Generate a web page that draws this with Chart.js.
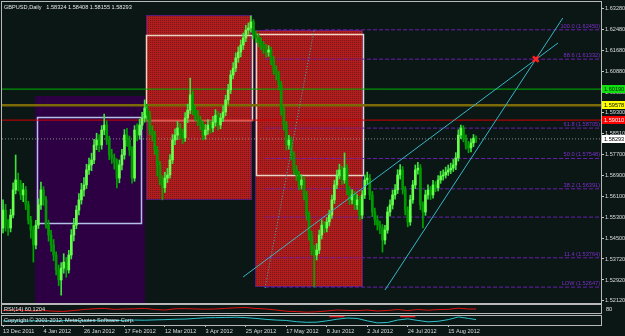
<!DOCTYPE html>
<html>
<head>
<meta charset="utf-8">
<script src="https://cdn.jsdelivr.net/npm/chart.js@4.4.0/dist/chart.umd.min.js"></script>
<style>
html, body { margin: 0; padding: 0; background: #0a1715; }
#wrap { position: relative; width: 625px; height: 336px; overflow: hidden; background: #0a1715; }
#wrap canvas { position: absolute; left: 0; }
</style>
</head>
<body>
<div id="wrap">
  <canvas id="main" width="625" height="304" style="top:0"></canvas>
  <canvas id="rsi" width="625" height="11" style="top:304px"></canvas>
  <canvas id="osc" width="625" height="21" style="top:315px"></canvas>
</div>
<script>
// GBPUSD daily bars, 13 Dec 2011 .. end of Aug 2012
const opens = [
  1.5490,1.5558,1.5501,1.5490,1.5539,1.5635,1.5673,1.5654,1.5616,1.5635,
  1.5578,1.5520,1.5482,1.5425,1.5501,1.5578,1.5635,1.5597,1.5501,1.5463,
  1.5425,1.5387,1.5330,1.5292,1.5337,1.5360,1.5330,1.5387,1.5463,1.5501,
  1.5558,1.5597,1.5635,1.5654,1.5711,1.5730,1.5749,1.5806,1.5825,1.5806,
  1.5863,1.5882,1.5825,1.5768,1.5757,1.5741,1.5680,1.5730,1.5768,1.5844,
  1.5825,1.5787,1.5680,1.5863,1.5844,1.5882,1.5909,1.5947,1.5920,1.5863,
  1.5844,1.5787,1.5730,1.5673,1.5643,1.5680,1.5692,1.5749,1.5825,1.5844,
  1.5871,1.5852,1.5833,1.5909,1.5939,1.5997,1.5939,1.5920,1.5901,1.5882,
  1.5844,1.5863,1.5882,1.5871,1.5893,1.5920,1.5882,1.5909,1.5932,1.5978,
  1.6016,1.6073,1.6099,1.6138,1.6160,1.6187,1.6214,1.6244,1.6252,1.6275,
  1.6225,1.6214,1.6198,1.6187,1.6175,1.6160,1.6168,1.6130,1.6092,1.6073,
  1.6035,1.5939,1.5882,1.5806,1.5825,1.5768,1.5711,1.5692,1.5654,1.5673,
  1.5616,1.5539,1.5463,1.5406,1.5387,1.5406,1.5463,1.5501,1.5490,1.5513,
  1.5539,1.5597,1.5654,1.5692,1.5711,1.5673,1.5718,1.5635,1.5597,1.5616,
  1.5578,1.5597,1.5539,1.5616,1.5673,1.5680,1.5616,1.5551,1.5520,1.5501,
  1.5490,1.5444,1.5482,1.5551,1.5578,1.5616,1.5635,1.5692,1.5711,1.5635,
  1.5558,1.5513,1.5597,1.5654,1.5711,1.5718,1.5578,1.5551,1.5616,1.5635,
  1.5616,1.5654,1.5643,1.5673,1.5688,1.5692,1.5703,1.5711,1.5718,1.5730,
  1.5757,1.5844,1.5871,1.5833,1.5806,1.5795,1.5814,1.58324
];
const highs = [
  1.5597,1.5580,1.5522,1.5561,1.5662,1.5768,1.5699,1.5671,1.5660,1.5648,
  1.5592,1.5534,1.5497,1.5519,1.5601,1.5665,1.5648,1.5610,1.5520,1.5481,
  1.5446,1.5399,1.5349,1.5358,1.5392,1.5378,1.5405,1.5484,1.5527,1.5575,
  1.5621,1.5660,1.5682,1.5733,1.5756,1.5775,1.5828,1.5851,1.5846,1.5880,
  1.5924,1.5898,1.5840,1.5790,1.5772,1.5753,1.5749,1.5790,1.5865,1.5870,
  1.5840,1.5800,1.5880,1.5887,1.5905,1.5931,1.5978,1.5962,1.5935,1.5879,
  1.5858,1.5801,1.5744,1.5690,1.5702,1.5717,1.5770,1.5846,1.5868,1.5896,
  1.5889,1.5867,1.5930,1.5962,1.6061,1.6012,1.5955,1.5938,1.5915,1.5897,
  1.5884,1.5903,1.5898,1.5915,1.5941,1.5934,1.5926,1.5955,1.5996,1.6037,
  1.6090,1.6120,1.6157,1.6180,1.6206,1.6233,1.6262,1.6271,1.6298,1.6284,
  1.6240,1.6229,1.6215,1.6201,1.6190,1.6185,1.6179,1.6144,1.6108,1.6087,
  1.6049,1.5952,1.5896,1.5843,1.5837,1.5780,1.5727,1.5706,1.5693,1.5687,
  1.5630,1.5552,1.5478,1.5425,1.5430,1.5482,1.5520,1.5514,1.5530,1.5558,
  1.5615,1.5672,1.5711,1.5733,1.5725,1.5776,1.5731,1.5648,1.5636,1.5630,
  1.5617,1.5610,1.5633,1.5692,1.5703,1.5694,1.5629,1.5566,1.5537,1.5516,
  1.5503,1.5500,1.5570,1.5597,1.5634,1.5655,1.5712,1.5732,1.5724,1.5648,
  1.5571,1.5615,1.5671,1.5730,1.5740,1.5731,1.5590,1.5634,1.5654,1.5648,
  1.5672,1.5667,1.5690,1.5706,1.5712,1.5722,1.5730,1.5737,1.5751,1.5777,
  1.5864,1.5882,1.5880,1.5845,1.5820,1.5830,1.5846,1.58408
];
const lows = [
  1.5471,1.5478,1.5462,1.5475,1.5528,1.5620,1.5631,1.5598,1.5590,1.5560,
  1.5505,1.5451,1.5360,1.5410,1.5488,1.5561,1.5576,1.5489,1.5440,1.5401,
  1.5365,1.5311,1.5270,1.5234,1.5318,1.5302,1.5318,1.5372,1.5441,1.5487,
  1.5540,1.5581,1.5611,1.5640,1.5694,1.5708,1.5735,1.5788,1.5781,1.5790,
  1.5845,1.5808,1.5750,1.5736,1.5714,1.5643,1.5662,1.5711,1.5752,1.5801,
  1.5766,1.5661,1.5668,1.5822,1.5828,1.5866,1.5893,1.5900,1.5845,1.5822,
  1.5770,1.5688,1.5655,1.5597,1.5625,1.5663,1.5680,1.5735,1.5807,1.5826,
  1.5830,1.5811,1.5820,1.5891,1.5925,1.5921,1.5899,1.5880,1.5863,1.5825,
  1.5828,1.5846,1.5852,1.5856,1.5878,1.5864,1.5868,1.5895,1.5918,1.5962,
  1.6002,1.6058,1.6085,1.6121,1.6142,1.6170,1.6200,1.6228,1.6236,1.6210,
  1.6196,1.6180,1.6168,1.6155,1.6141,1.6144,1.6112,1.6075,1.6054,1.6016,
  1.5920,1.5863,1.5787,1.5790,1.5749,1.5694,1.5671,1.5635,1.5638,1.5597,
  1.5520,1.5444,1.5387,1.5265,1.5368,1.5392,1.5448,1.5472,1.5475,1.5498,
  1.5526,1.5583,1.5640,1.5677,1.5656,1.5660,1.5617,1.5579,1.5582,1.5560,
  1.5561,1.5520,1.5526,1.5602,1.5657,1.5598,1.5533,1.5502,1.5482,1.5468,
  1.5398,1.5428,1.5470,1.5535,1.5562,1.5600,1.5621,1.5676,1.5619,1.5540,
  1.5494,1.5500,1.5584,1.5640,1.5695,1.5560,1.5490,1.5538,1.5600,1.5598,
  1.5604,1.5628,1.5631,1.5660,1.5672,1.5680,1.5690,1.5697,1.5705,1.5712,
  1.5745,1.5830,1.5818,1.5790,1.5777,1.5780,1.5800,1.58155
];
const closes = [
  1.5558,1.5501,1.5490,1.5539,1.5635,1.5673,1.5654,1.5616,1.5635,1.5578,
  1.5520,1.5482,1.5425,1.5501,1.5578,1.5635,1.5597,1.5501,1.5463,1.5425,
  1.5387,1.5330,1.5292,1.5337,1.5360,1.5330,1.5387,1.5463,1.5501,1.5558,
  1.5597,1.5635,1.5654,1.5711,1.5730,1.5749,1.5806,1.5825,1.5806,1.5863,
  1.5882,1.5825,1.5768,1.5757,1.5741,1.5680,1.5730,1.5768,1.5844,1.5825,
  1.5787,1.5680,1.5863,1.5844,1.5882,1.5909,1.5947,1.5920,1.5863,1.5844,
  1.5787,1.5730,1.5673,1.5643,1.5680,1.5692,1.5749,1.5825,1.5844,1.5871,
  1.5852,1.5833,1.5909,1.5939,1.5997,1.5939,1.5920,1.5901,1.5882,1.5844,
  1.5863,1.5882,1.5871,1.5893,1.5920,1.5882,1.5909,1.5932,1.5978,1.6016,
  1.6073,1.6099,1.6138,1.6160,1.6187,1.6214,1.6244,1.6252,1.6275,1.6225,
  1.6214,1.6198,1.6187,1.6175,1.6160,1.6168,1.6130,1.6092,1.6073,1.6035,
  1.5939,1.5882,1.5806,1.5825,1.5768,1.5711,1.5692,1.5654,1.5673,1.5616,
  1.5539,1.5463,1.5406,1.5387,1.5406,1.5463,1.5501,1.5490,1.5513,1.5539,
  1.5597,1.5654,1.5692,1.5711,1.5673,1.5718,1.5635,1.5597,1.5616,1.5578,
  1.5597,1.5539,1.5616,1.5673,1.5680,1.5616,1.5551,1.5520,1.5501,1.5490,
  1.5444,1.5482,1.5551,1.5578,1.5616,1.5635,1.5692,1.5711,1.5635,1.5558,
  1.5513,1.5597,1.5654,1.5711,1.5718,1.5578,1.5551,1.5616,1.5635,1.5616,
  1.5654,1.5643,1.5673,1.5688,1.5692,1.5703,1.5711,1.5718,1.5730,1.5757,
  1.5844,1.5871,1.5833,1.5806,1.5795,1.5814,1.58324,1.58293
];

// time axis labels (one every 16 bars)
const dateIdx = [0, 16, 32, 48, 64, 80, 96, 112, 128, 144, 160, 176];
const dateLabels = ['13 Dec 2011', '4 Jan 2012', '26 Jan 2012', '17 Feb 2012', '12 Mar 2012', '3 Apr 2012',
                    '25 Apr 2012', '17 May 2012', '8 Jun 2012', '2 Jul 2012', '24 Jul 2012', '15 Aug 2012'];

// price scale labels
const priceTicks = [1.63280, 1.62480, 1.61680, 1.60880, 1.60080, 1.59300, 1.58510, 1.57700,
                    1.56900, 1.56100, 1.55300, 1.54500, 1.53720, 1.52920, 1.52120];

// horizontal level lines
const levelPrices = [1.60190, 1.59578, 1.59010, 1.58293];
const levelLabels = ['1.60190', '1.59578', '1.59010', '1.58293'];

// fibonacci levels
const fibPrices = [1.62450, 1.61332, 1.58705, 1.57548, 1.56391, 1.55314, 1.53764, 1.52647];
const fibLabels = ['100.0 (1.62450)', '88.6 (1.61332)', '61.8 (1.58705)', '50.0 (1.57548)',
                   '38.2 (1.56391)', '', '11.4 (1.53764)', 'LOW (1.52647)'];

// indicator panels (sampled every 4 bars)
const indIdx = [0,4,8,12,16,20,24,28,32,36,40,44,48,52,56,60,64,68,72,76,80,84,88,92,
                96,100,104,108,112,116,120,124,128,132,136,140,144,148,152,156,160,164,168,172,176,180,184,187];
const rsiVals = [45,48,46,40,44,38,36,45,55,62,66,56,60,62,66,55,50,62,64,60,58,60,66,72,
                 75,65,60,50,38,34,28,32,40,50,46,44,50,40,45,55,44,55,48,54,56,68,60,60];
const oscVals = [38,40,36,40,42,38,44,46,42,45,48,44,46,50,48,52,55,60,62,70,78,80,82,85,
                 80,70,58,50,45,30,22,24,40,60,75,70,40,15,20,50,65,45,28,35,55,88,70,56];

const X_MIN = -0.4, X_MAX = 236.4;
const FONT = 'Liberation Sans';
Chart.defaults.font.family = FONT;

// rectangles drawn on the chart (bar index / price)
const zones = [
  { kind: 'purple', from: 12.65, to: 56.1, top: 1.59928, bottom: 1.50 },
  { kind: 'red', from: 56.5, to: 98.4, top: 1.63013, bottom: 1.55966 },
  { kind: 'red', from: 99.6, to: 142.3, top: 1.62450, bottom: 1.52647 },
  { kind: 'blueBox', from: 13.4, to: 54.5, top: 1.59128, bottom: 1.55090 },
  { kind: 'box', from: 56.5, to: 98.4, top: 1.62251, bottom: 1.59013 },
  { kind: 'box', from: 100, to: 142.3, top: 1.62290, bottom: 1.56918 }
];

// trend lines (bar index / price)
const trendA = [{ x: 94.9, y: 1.53032 }, { x: 219.4, y: 1.61947 }];
const trendB = [{ x: 151.0, y: 1.52537 }, { x: 221.3, y: 1.62899 }];
const fibDiag = [{ x: 103.6, y: 1.52613 }, { x: 123.0, y: 1.62450 }];
const crossMark = [{ x: 210.6, y: 1.61332 }];

function makeRedPattern(ctx) {
  const c = document.createElement('canvas');
  c.width = 2; c.height = 2;
  const g = c.getContext('2d');
  g.fillStyle = '#b21e1e';
  g.fillRect(0, 0, 2, 2);
  g.fillStyle = '#761616';
  g.fillRect(0, 0, 1, 1);
  return ctx.createPattern(c, 'repeat');
}

const framePlugin = {
  id: 'frame',
  afterDraw(chart) {
    const { ctx, chartArea: a } = chart;
    ctx.save();
    ctx.strokeStyle = '#b8b8b8';
    ctx.lineWidth = 1;
    ctx.strokeRect(a.left - 0.5, a.top - 0.5, a.right - a.left + 1, a.bottom - a.top + 1);
    ctx.restore();
  }
};

const zonesPlugin = {
  id: 'zones',
  beforeDatasetsDraw(chart) {
    const { ctx, chartArea: a, scales: { x, y } } = chart;
    const red = makeRedPattern(ctx);
    ctx.save();
    ctx.beginPath();
    ctx.rect(a.left, a.top, a.right - a.left, a.bottom - a.top);
    ctx.clip();
    zones.forEach(z => {
      const x0 = Math.round(x.getPixelForValue(z.from));
      const x1 = Math.round(x.getPixelForValue(z.to));
      const y0 = Math.round(y.getPixelForValue(z.top));
      const y1 = Math.round(y.getPixelForValue(z.bottom));
      if (z.kind === 'purple') {
        ctx.fillStyle = '#2c0042';
        ctx.fillRect(x0, y0, x1 - x0, y1 - y0);
      } else if (z.kind === 'red') {
        ctx.fillStyle = red;
        ctx.fillRect(x0, y0, x1 - x0, y1 - y0);
        ctx.strokeStyle = '#5a1a78';
        ctx.lineWidth = 1;
        ctx.strokeRect(x0 + 0.5, y0 + 0.5, x1 - x0 - 1, y1 - y0 - 1);
      } else {
        ctx.strokeStyle = z.kind === 'blueBox' ? '#b4c2ea' : '#efd2c2';
        ctx.lineWidth = 1.5;
        ctx.strokeRect(x0 + 0.5, y0 + 0.5, x1 - x0, y1 - y0);
      }
    });
    ctx.restore();
  }
};

const textPlugin = {
  id: 'texts',
  afterDraw(chart) {
    const { ctx, scales: { y } } = chart;
    ctx.save();
    ctx.font = '5.6px ' + FONT;
    ctx.textBaseline = 'middle';
    // header
    ctx.fillStyle = '#e6e6e6';
    ctx.textAlign = 'left';
    ctx.fillText('GBPUSD,Daily   1.58324 1.58408 1.58155 1.58293', 4, 7);
    // fibonacci labels
    ctx.fillStyle = '#7c2ec8';
    ctx.textAlign = 'right';
    ctx.textBaseline = 'bottom';
    fibPrices.forEach((p, k) => {
      if (fibLabels[k]) ctx.fillText(fibLabels[k], 600, Math.round(y.getPixelForValue(p)) - 0.5);
    });
    // price boxes on the right scale
    const boxBg = ['#10e010', '#ffff00', '#ff0000', '#ffffff'];
    const boxFg = ['#002000', '#000000', '#ffffff', '#000000'];
    ctx.textAlign = 'left';
    ctx.textBaseline = 'middle';
    levelPrices.forEach((p, k) => {
      const py = Math.round(y.getPixelForValue(p));
      ctx.fillStyle = boxBg[k];
      ctx.fillRect(602, py - 4, 23, 8);
      ctx.fillStyle = boxFg[k];
      ctx.fillText(levelLabels[k], 604, py + 0.5);
    });
    ctx.restore();
  }
};

function hLine(price, from, color, width, dash, order) {
  return {
    type: 'line',
    data: [{ x: from, y: price }, { x: X_MAX, y: price }],
    borderColor: color, borderWidth: width, borderDash: dash,
    pointRadius: 0, order: order
  };
}

const lineColors = ['#00b400', '#7c6a06', '#d40000', '#8c8c8c'];
const lineWidths = [1, 2.5, 1, 1];
const lineDash = [[], [], [], [1, 2]];

const datasets = [];
levelPrices.forEach((p, k) => datasets.push(hLine(p, X_MIN, lineColors[k], lineWidths[k], lineDash[k], 5)));
fibPrices.forEach(p => datasets.push(hLine(p, 103.6, '#6a1fae', 1, [4, 2], 4)));

datasets.push({
  type: 'bar',
  data: lows.map((l, i) => ({ x: i, y: [l, highs[i]] })),
  backgroundColor: closes.map((c, i) => c >= opens[i] ? '#3ee23e' : '#00a600'),
  barThickness: 1, grouped: false, order: 3
});
datasets.push({
  type: 'bar',
  data: opens.map((o, i) => ({ x: i, y: [o, closes[i]] })),
  backgroundColor: closes.map((c, i) => c >= opens[i] ? '#66ff4c' : '#009a00'),
  barThickness: 2, minBarLength: 1, grouped: false, order: 2
});
[trendA, trendB].forEach(t => datasets.push({
  type: 'line', data: t, borderColor: '#38b6c6', borderWidth: 1, pointRadius: 0, order: 1
}));
datasets.push({
  type: 'line', data: fibDiag, borderColor: '#38b6c6', borderWidth: 1, borderDash: [1, 2],
  pointRadius: 0, order: 1
});
datasets.push({
  type: 'line', data: crossMark, showLine: false, pointStyle: 'crossRot', pointRadius: 4,
  pointBorderColor: '#ff2424', pointBorderWidth: 2.5, order: 0
});

new Chart(document.getElementById('main'), {
  type: 'bar',
  data: { datasets: datasets },
  options: {
    responsive: false, animation: false, events: [], devicePixelRatio: 1,
    layout: { autoPadding: false, padding: { left: 2, top: 2, right: 0, bottom: 1 } },
    plugins: { legend: { display: false }, tooltip: { enabled: false } },
    scales: {
      x: { type: 'linear', min: X_MIN, max: X_MAX, offset: false, display: false },
      y: {
        position: 'right', min: 1.52042, max: 1.63509,
        afterBuildTicks: s => { s.ticks = priceTicks.map(v => ({ value: v })); },
        afterFit: s => { s.width = 24; s.paddingTop = 0; s.paddingBottom = 0; },
        border: { display: false },
        grid: { drawOnChartArea: false, drawTicks: true, tickLength: 3, color: '#c8c8c8' },
        ticks: { color: '#dcdcdc', padding: 1, font: { size: 5.6 }, callback: v => v.toFixed(5) }
      }
    }
  },
  plugins: [zonesPlugin, framePlugin, textPlugin]
});

function panelText(label, ly, rightLabel) {
  return {
    id: 'panelText',
    afterDraw(chart) {
      const ctx = chart.ctx;
      ctx.save();
      ctx.font = '5.6px ' + FONT;
      ctx.textBaseline = 'middle';
      ctx.fillStyle = '#e6e6e6';
      ctx.fillText(label, 4, ly);
      if (rightLabel) ctx.fillText(rightLabel, 606, ly);
      ctx.restore();
    }
  };
}

new Chart(document.getElementById('rsi'), {
  type: 'line',
  data: {
    datasets: [{
      data: indIdx.map((x, k) => ({ x: x, y: rsiVals[k] })),
      borderColor: '#e01414', borderWidth: 1, pointRadius: 0
    }]
  },
  options: {
    responsive: false, animation: false, events: [], devicePixelRatio: 1,
    layout: { autoPadding: false, padding: { left: 2, top: 1, right: 24, bottom: 2 } },
    plugins: { legend: { display: false }, tooltip: { enabled: false } },
    scales: {
      x: { type: 'linear', min: X_MIN, max: X_MAX, display: false },
      y: { min: 20, max: 100, display: false }
    }
  },
  plugins: [framePlugin, panelText('RSI(14) 60.1204', 5.5, '80')]
});

new Chart(document.getElementById('osc'), {
  type: 'line',
  data: {
    datasets: [
      {
        data: indIdx.map((x, k) => ({ x: x, y: oscVals[k] })),
        borderColor: '#2ec4cc', borderWidth: 1, pointRadius: 0
      },
      {
        data: [{ x: 129, y: 96 }, { x: 135, y: 96 }],
        borderColor: '#e02020', borderWidth: 2, pointRadius: 0
      },
      {
        data: [{ x: 157, y: 96 }, { x: 163, y: 96 }],
        borderColor: '#e02020', borderWidth: 2, pointRadius: 0
      }
    ]
  },
  options: {
    responsive: false, animation: false, events: [], devicePixelRatio: 1,
    layout: { autoPadding: false, padding: { left: 2, top: 1, right: 24, bottom: 0 } },
    plugins: { legend: { display: false }, tooltip: { enabled: false } },
    scales: {
      x: {
        type: 'linear', min: X_MIN, max: X_MAX, offset: false,
        afterBuildTicks: s => { s.ticks = dateIdx.map(v => ({ value: v })); },
        afterFit: s => { s.height = 11; s.paddingLeft = 0; s.paddingRight = 0; },
        border: { display: false },
        grid: { drawOnChartArea: false, drawTicks: true, tickLength: 2, color: '#c8c8c8' },
        ticks: {
          color: '#dcdcdc', padding: 1, align: 'start', maxRotation: 0, autoSkip: false,
          font: { size: 5.6 },
          callback: v => dateLabels[dateIdx.indexOf(v)]
        }
      },
      y: { min: -11, max: 100, display: false }
    }
  },
  plugins: [framePlugin, panelText('Copyright \u00a9 2001-2012, MetaQuotes Software Corp.', 5.5, '')]
});
</script>
</body>
</html>
